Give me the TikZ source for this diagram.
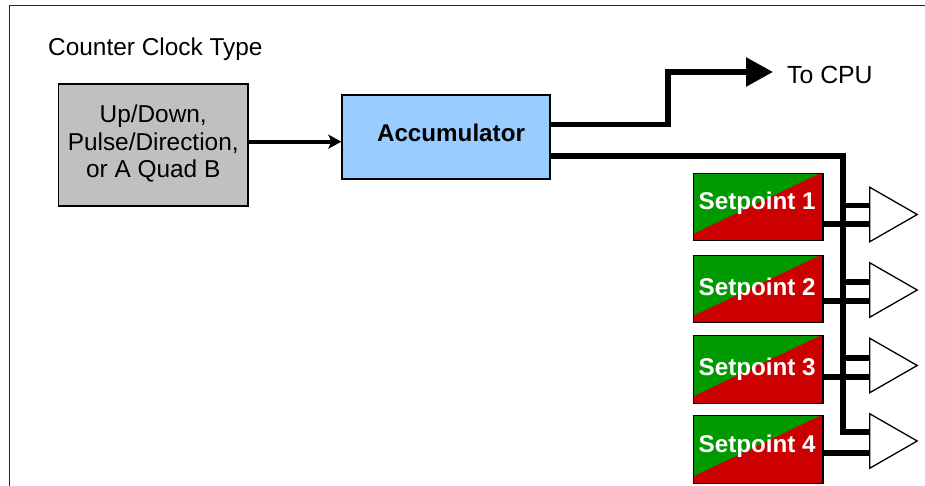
\documentclass[tikz,border=0pt]{standalone}
\usepackage{fontspec}
\setmainfont{Liberation Sans}
\usetikzlibrary{arrows.meta}
\definecolor{sgreen}{HTML}{009900}
\definecolor{sred}{HTML}{CC0000}
\definecolor{ablue}{HTML}{99CCFF}
\definecolor{bgray}{HTML}{C0C0C0}
\tikzset{
  txt/.style={font=\fontsize{24.4}{27.5}\selectfont},
  boxbase/.style={draw=black,line width=1.3pt,inner sep=0pt,txt},
  setbox/.style={boxbase,minimum width=129.5pt,minimum height=67.5pt,fill=sred,text=white,
    font=\fontsize{24.2}{27.5}\selectfont\bfseries,
    path picture={\fill[sgreen] (path picture bounding box.north west)
      -- ([xshift=-3pt]path picture bounding box.north east)
      -- ([yshift=7pt]path picture bounding box.south west) -- cycle;}},
  trishape/.style={minimum width=47pt,minimum height=54pt,inner sep=0pt},
  tridraw/.style={draw=black,fill=white,line width=1.3pt,line join=miter},
  bus/.style={line width=5.6pt,line join=miter},
  feed/.style={line width=4pt,-{Stealth[length=13pt,width=14pt,inset=3pt]}},
  cpuarrow/.style={bus,-{Triangle[length=27pt,width=28pt]}}
}
\begin{document}
\begin{tikzpicture}[x=1pt,y=-1pt]
\useasboundingbox (0,0) rectangle (925,486);
\fill[white] (0,0) rectangle (925,486);
% frame
\coordinate (ftl) at (9.3,5.3);
\coordinate (ftr) at (925,5.3);
\coordinate (fbl) at (9.3,486);
\draw[line width=1.2pt,draw=black!85] (ftr) -- (ftl) -- (fbl);
% text
\node[txt,anchor=west,inner sep=0pt] (title) at (48,49.5) {Counter Clock Type};
\node[boxbase,fill=bgray,minimum width=189.5pt,minimum height=122pt,align=center] (gray) at (153.2,145)
  {Up/Down,\\Pulse/Direction,\\or A Quad B\rule[-7pt]{0pt}{1pt}};
\node[boxbase,fill=ablue,minimum width=208pt,minimum height=84pt,font=\fontsize{24.2}{27.5}\selectfont\bfseries] (acc) at (446,137)
  {\hspace*{10pt}\raisebox{8pt}{Accumulator}};
\node[anchor=west,inner xsep=14pt,inner ysep=0pt,font=\fontsize{24.8}{27.5}\selectfont] (cpu) at (773,75) {To CPU};
% setpoints
\node[setbox] (s1) at (758.2,207) {\raisebox{13pt}{\hspace*{-2pt}Setpoint 1}};
\node[setbox] (s2) at (758.2,289) {\raisebox{-6pt}{\hspace*{-2pt}Setpoint 2}};
\node[setbox] (s3) at (758.2,369.5) {\raisebox{6pt}{\hspace*{-2pt}Setpoint 3}};
\node[setbox] (s4) at (758.2,449.5) {\raisebox{12pt}{\hspace*{-2pt}Setpoint 4}};
% comparator anchors
\node[trishape] (t1) at (893.5,214.5) {};
\node[trishape] (t2) at (893.5,290) {};
\node[trishape] (t3) at (893.5,365.5) {};
\node[trishape] (t4) at (893.5,441) {};
% connector levels
\coordinate (fy) at (300,141.7);
\coordinate (cpuy) at (600,124.5);
\coordinate (cpuk) at (668,72);
\coordinate (busy) at (600,156);
\coordinate (busx) at (843,300);
\coordinate (a1) at (850,205.7); \coordinate (b1) at (850,224.3);
\coordinate (a2) at (850,281.7); \coordinate (b2) at (850,300.7);
\coordinate (a3) at (850,357.7); \coordinate (b3) at (850,376.7);
\coordinate (a4) at (850,432);   \coordinate (b4) at (850,452.7);
% connectors
\draw[feed] (gray.east |- fy) -- (acc.west |- fy);
\draw[cpuarrow] (acc.east |- cpuy) -| (cpuk) -- (cpu.west |- cpuk);
\draw[bus] ([xshift=-2pt]acc.east |- busy) -| (busx |- a4) -- (t4.west |- a4);
\foreach \i in {1,2,3}{
  \draw[bus] (busx |- a\i) -- (t\i.west |- a\i);
}
\foreach \i in {1,2,3,4}{
  \draw[bus] (s\i.east |- b\i) -- (t\i.west |- b\i);
  \draw[tridraw] (t\i.north west) -- (t\i.east) -- (t\i.south west) -- cycle;
}
\end{tikzpicture}
\end{document}
